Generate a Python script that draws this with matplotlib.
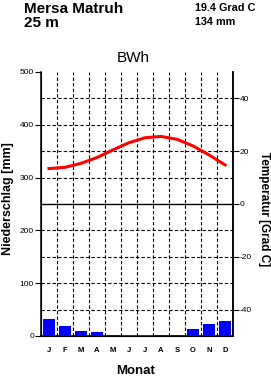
import matplotlib
matplotlib.use('Agg')
import matplotlib.pyplot as plt
import numpy as np

plt.rcParams['font.family'] = ['Liberation Sans', 'DejaVu Sans']

months = ['J', 'F', 'M', 'A', 'M', 'J', 'J', 'A', 'S', 'O', 'N', 'D']
precip = [33, 18, 10, 7, 2, 0, 0, 1, 1, 14, 22, 29]
temp = [13.4, 13.9, 15.4, 17.6, 20.5, 23.2, 25.1, 25.6, 24.5, 22.0, 18.6, 14.8]
station = 'Mersa Matruh'
height = '25 m'
mean_temp = '19.4 Grad C'
sum_precip = '134 mm'
climate = 'BWh'

fig = plt.figure(figsize=(2.71, 3.77), dpi=100)
ax = fig.add_axes([41/271, 1-336/377, 192/271, 264/377])
x = np.arange(12) + 0.5

ax.bar(x, precip, width=0.7, color='#0000ff', zorder=3)
ax.set_xlim(0, 12)
ax.set_ylim(0, 500)

# grid
for m in range(1, 12):
    ax.axvline(m, color='black', lw=0.8, ls=(0, (3, 2)), zorder=1)
for v in range(50, 500, 50):
    if v == 250:
        ax.axhline(v, color='black', lw=1.0, zorder=1)
    else:
        ax.axhline(v, color='black', lw=0.8, ls=(0, (3, 2)), zorder=1)

ax.set_yticks(np.arange(0, 501, 100))
ax.set_yticklabels([str(v) for v in range(0, 501, 100)], fontsize=6)
ax.set_xticks(x)
ax.set_xticklabels(months, fontsize=5.5, fontweight='bold')
ax.tick_params(axis='x', length=0, pad=8)
ax.tick_params(axis='y', length=4, width=0.8, pad=1)
ax.spines['top'].set_visible(False)
for s in ['left', 'bottom', 'right']:
    ax.spines[s].set_linewidth(1.1)
ax.set_ylabel('Niederschlag [mm]', fontsize=9, fontweight='bold')
ax.yaxis.set_label_coords(-0.172, 0.52)
ax.yaxis.label.set_va('center')
ax.set_xlabel('Monat', fontsize=9.5, fontweight='bold')
ax.xaxis.set_label_coords(0.49, -0.133)
ax.xaxis.label.set_va('center')

ax2 = ax.twinx()
ax2.set_ylim(-50, 50)
ax2.plot(x, temp, color='#ff0000', lw=2.2, zorder=4)
ax2.set_yticks([-40, -20, 0, 20, 40])
ax2.set_yticklabels(['-40', '-20', '0', '20', '40'], fontsize=6)
ax2.tick_params(axis='y', length=4, width=0.8, pad=1)
ax2.spines['top'].set_visible(False)
ax2.spines['right'].set_linewidth(1.1)
ax2.set_ylabel('Temperatur [Grad C]', fontsize=8.5, fontweight='bold', rotation=-90)
ax2.yaxis.set_label_coords(1.16, 0.48)
ax2.yaxis.label.set_va('center')

fig.text(24/271, 1-2/377, station, fontsize=11, fontweight='bold', va='top')
fig.text(24/271, 1-16/377, height, fontsize=11, fontweight='bold', va='top')
fig.text(195/271, 1-3/377, mean_temp, fontsize=7.8, fontweight='bold', va='top')
fig.text(195/271, 1-17/377, sum_precip, fontsize=7.8, fontweight='bold', va='top')
fig.text(133/271, 1-51/377, climate, fontsize=11, va='top', ha='center')

fig.savefig('out.png', dpi=100)
